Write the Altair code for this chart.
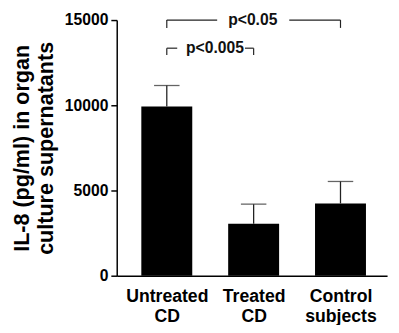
import altair as alt
import pandas as pd

# Data
categories = ["Untreated CD", "Treated CD", "Control subjects"]
label_lines = [["Untreated", "CD"], ["Treated", "CD"], ["Control", "subjects"]]
means = [9930, 3050, 4240]
upper = [11160, 4200, 5530]

# significance brackets (segments in data coords: x index, y value)
seg_x = [0.0, 0.0, 1.41, 2.0, 0.0, 0.0, 0.90, 1.0]
seg_x2 = [0.0, 0.58, 2.0, 2.0, 0.0, 0.12, 1.0, 1.0]
seg_y = [14540, 15000, 15000, 14540, 12950, 13350, 13350, 13350]
seg_y2 = [15000, 15000, 15000, 15000, 13350, 13350, 13350, 12950]
p_text = ["p<0.05", "p<0.005"]
p_x = [0.99, 0.555]
p_y = [15000, 13350]

FONT = "Liberation Sans"

bars = pd.DataFrame({"idx": list(range(len(categories))), "cat": categories,
                     "mean": means, "upper": upper})
segs = pd.DataFrame({"x": seg_x, "x2": seg_x2, "y": seg_y, "y2": seg_y2})
ptxt = pd.DataFrame({"x": p_x, "y": p_y, "t": p_text})

label_expr = " : ".join(
    [f"datum.value == {i} ? {lines!r}" for i, lines in enumerate(label_lines[:-1])]
    + [repr(label_lines[-1])]
)

xscale = alt.Scale(domain=[-0.52, 2.48], nice=False, zero=False)
yscale = alt.Scale(domain=[0, 15000], nice=False)

xaxis = alt.Axis(values=[0, 1, 2], labelExpr=label_expr, ticks=False, grid=False,
                 title=None, labelFont=FONT, labelFontWeight="bold", labelFontSize=18,
                 labelColor="black", labelLineHeight=21, labelPadding=12,
                 domainColor="black", domainWidth=1.5, labelBaseline="top")
yaxis = alt.Axis(values=[0, 5000, 10000, 15000], format="d", grid=False,
                 title=["IL-8 (pg/ml) in organ", "culture supernatants"],
                 titleFont=FONT, titleFontWeight="bold", titleFontSize=22,
                 titleColor="black", titleLineHeight=25, titlePadding=7,
                 labelFont=FONT, labelFontWeight="bold", labelFontSize=16,
                 labelColor="black", labelPadding=3, tickSize=6, tickColor="black",
                 tickWidth=1.5, domainColor="black", domainWidth=1.5)

base = alt.Chart(bars)
bar = base.mark_bar(size=52, color="black").encode(
    x=alt.X("idx:Q", scale=xscale, axis=xaxis),
    y=alt.Y("mean:Q", scale=yscale, axis=yaxis),
)
err = base.mark_rule(color="#222", strokeWidth=1.3).encode(
    x=alt.X("idx:Q", scale=xscale),
    y=alt.Y("mean:Q", scale=yscale),
    y2="upper:Q",
)
cap = base.mark_tick(orient="horizontal", size=26, thickness=1.3, color="#222").encode(
    x=alt.X("idx:Q", scale=xscale),
    y=alt.Y("upper:Q", scale=yscale),
)
brk = alt.Chart(segs).mark_rule(color="#222", strokeWidth=1.2).encode(
    x=alt.X("x:Q", scale=xscale), x2="x2:Q",
    y=alt.Y("y:Q", scale=yscale), y2="y2:Q",
)
txt = alt.Chart(ptxt).mark_text(font=FONT, fontWeight="bold", fontSize=16,
                               color="#111", baseline="middle").encode(
    x=alt.X("x:Q", scale=xscale),
    y=alt.Y("y:Q", scale=yscale),
    text="t:N",
)

chart = alt.layer(bar, err, cap, brk, txt).properties(
    width=276, height=261,
    autosize=alt.AutoSizeParams(type="none"),
    padding={"left": 111, "top": 9, "right": 4, "bottom": 47},
).configure_view(stroke=None)

chart.save("out.html", embed_options={"renderer": "svg", "actions": False})
